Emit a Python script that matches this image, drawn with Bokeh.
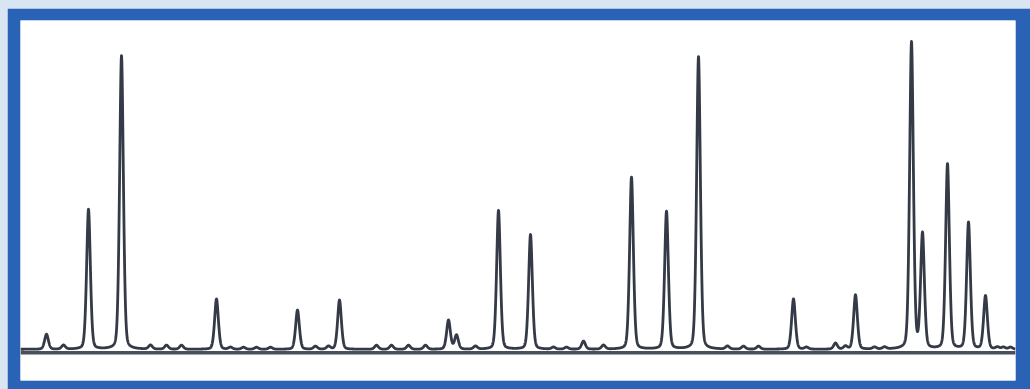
import numpy as np
from bokeh.plotting import figure
from bokeh.layouts import column
from bokeh.models import Span
from bokeh.embed import file_html
from bokeh.resources import INLINE

# Peak retention times (min) and heights (arbitrary units)
peak_rt = [1.04, 1.72, 2.72, 4.04, 5.20, 5.84, 6.44, 7.84, 8.40, 8.92, 9.44, 10.00,
           11.08, 11.80, 12.32, 12.76, 14.24, 14.84, 15.52, 16.20, 17.12, 17.44,
           18.20, 19.12, 20.40, 21.32, 21.84, 22.52, 23.32, 24.44, 25.84, 27.12,
           28.28, 28.92, 29.52, 30.92, 31.44, 32.60, 33.00, 33.40, 34.16, 34.56,
           35.64, 36.08, 37.08, 37.92, 38.60, 39.08, 39.32, 39.60]
peak_height = [15, 4, 139, 292, 4, 4, 4, 50, 2, 2, 2, 2,
               39, 3, 3, 49, 4, 4, 4, 4, 29, 14,
               3, 138, 114, 2, 2, 8, 4, 171, 137, 291,
               3, 3, 3, 50, 2, 6, 3, 54, 2, 2,
               305, 114, 184, 126, 53, 2, 2, 2]
peak_sigma = 0.08  # min

t = np.linspace(0, 39.8, 6000)
signal = np.zeros_like(t)
for rt, h in zip(peak_rt, peak_height):
    g = np.exp(-0.5 * ((t - rt) / peak_sigma) ** 2)
    lor = 1.0 / (1.0 + ((t - rt) / (peak_sigma * 0.9)) ** 2)
    signal += h * (0.7 * g + 0.3 * lor)

p = figure(width=1023, height=381, output_backend="svg", toolbar_location=None,
           x_range=(0, 39.8), y_range=(-31, 327),
           min_border_left=13, min_border_top=12, min_border_right=15, min_border_bottom=9,
           background_fill_color="white", border_fill_color="#2a63b6",
           outline_line_color=None)
p.margin = (8, 0, 0, 7)
p.xaxis.visible = False
p.yaxis.visible = False
p.grid.visible = False

p.add_layout(Span(location=-3.5, dimension="width", line_color="#4a4f5c", line_width=3.5))
p.line(t, signal, line_color="#353a47", line_width=2.8, line_join="round")

layout = column(p, width=1030, height=389,
                styles={"background-color": "#d9e5f2"})

open("out.html", "w").write(file_html(layout, INLINE))
